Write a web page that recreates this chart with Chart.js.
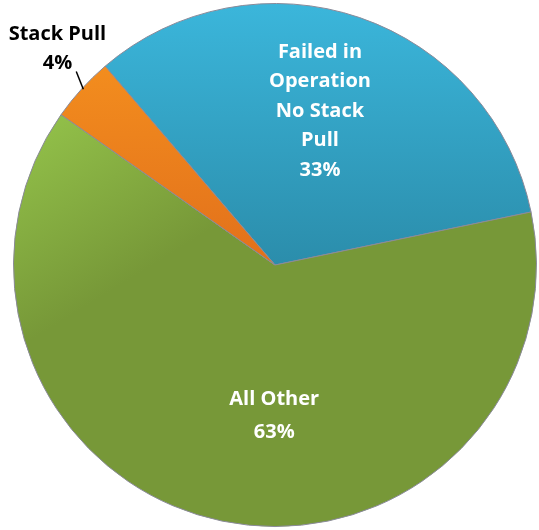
<!DOCTYPE html>
<html>
<head>
<meta charset="utf-8">
<script src="https://cdn.jsdelivr.net/npm/chart.js@4"></script>
<style>
  html, body { margin: 0; padding: 0; background: #fff; }
  #wrap { width: 539px; height: 530px; }
</style>
</head>
<body>
<div id="wrap"><canvas id="pie-chart"></canvas></div>
<script>
var categories = ["Failed in Operation No Stack Pull", "All Other", "Stack Pull"];
var shares = [33, 63, 4];
var labelLines = [
  ["Failed in", "Operation", "No Stack", "Pull", "33%"],
  ["All Other", "63%"],
  ["Stack Pull", "4%"]
];

// top / bottom colours of each slice gradient
var colorTop = ['#3bb6db', '#93c24a', '#f8961f'];
var colorBottom = ['#2b8dab', '#779838', '#e2701b'];

function sliceFill(context) {
  var chart = context.chart;
  var area = chart.chartArea;
  if (!area) return colorBottom[context.dataIndex];
  var i = context.dataIndex;
  var cy = (area.top + area.bottom) / 2;
  var g;
  if (i === 1) {
    g = chart.ctx.createLinearGradient(area.left + 40, area.top + 100, area.left + 140, cy);
  } else {
    g = chart.ctx.createLinearGradient(0, area.top, 0, cy);
  }
  g.addColorStop(0, colorTop[i]);
  g.addColorStop(1, colorBottom[i]);
  return g;
}

// where each label sits, as a fraction of the radius from the centre
var labelPos = [
  { fx: 0.172, fy: -0.588, color: '#ffffff', lh: 29.5 },
  { fx: -0.003, fy: 0.576, color: '#ffffff', lh: 33 },
  { fx: -0.832, fy: -0.828, color: '#000000', lh: 29 }
];

var pieLabels = {
  id: 'pieLabels',
  afterDatasetsDraw: function (chart) {
    var ctx = chart.ctx;
    var arcs = chart.getDatasetMeta(0).data;
    ctx.save();
    ctx.font = 'bold 20px "Open Sans", Lato, sans-serif';
    ctx.textAlign = 'center';
    ctx.textBaseline = 'middle';
    arcs.forEach(function (arc, i) {
      var r = arc.outerRadius;
      var p = labelPos[i];
      var x = arc.x + p.fx * r;
      var y = arc.y + p.fy * r;
      var lines = labelLines[i];
      var y0 = y - (lines.length - 1) * p.lh / 2;
      ctx.fillStyle = p.color;
      lines.forEach(function (t, k) {
        ctx.fillText(t, x, y0 + k * p.lh);
      });
      if (i === 2) {
        ctx.strokeStyle = '#000000';
        ctx.lineWidth = 1.5;
        ctx.beginPath();
        ctx.moveTo(arc.x - 0.760 * r, arc.y - 0.740 * r);
        ctx.lineTo(arc.x - 0.733 * r, arc.y - 0.672 * r);
        ctx.stroke();
      }
    });
    ctx.restore();
  }
};

new Chart(document.getElementById("pie-chart"), {
  type: 'pie',
  data: {
    labels: categories,
    datasets: [{
      data: shares,
      backgroundColor: sliceFill,
      borderColor: '#8a8a99',
      borderWidth: 1
    }]
  },
  options: {
    responsive: true,
    maintainAspectRatio: false,
    animation: false,
    rotation: -40.5,
    layout: { padding: { left: 13, right: 2, top: 3, bottom: 3 } },
    plugins: {
      legend: { display: false },
      tooltip: { enabled: false }
    }
  },
  plugins: [pieLabels]
});
</script>
</body>
</html>
